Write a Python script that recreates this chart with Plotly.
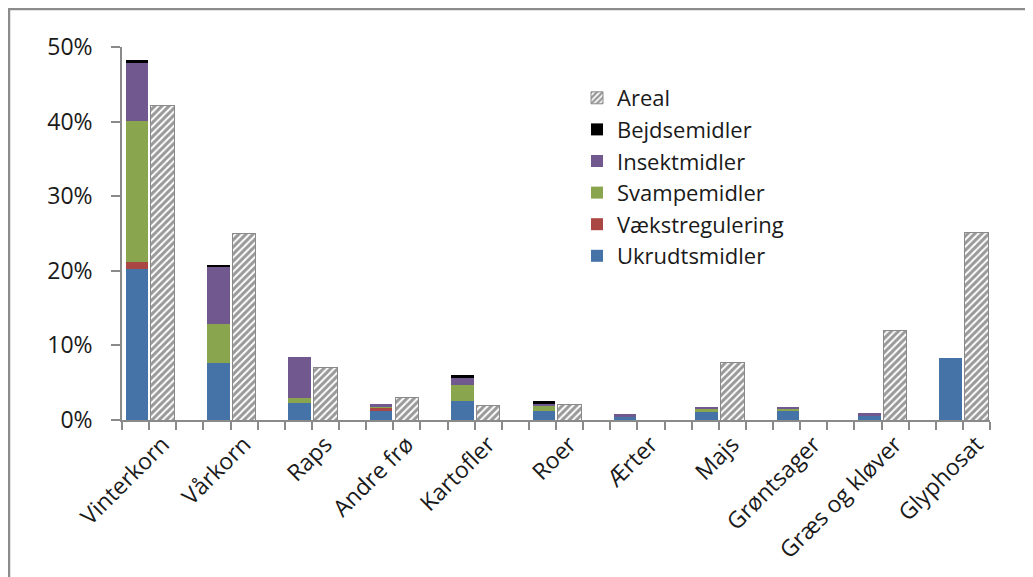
import plotly.graph_objects as go

categories = ["Vinterkorn", "Vårkorn", "Raps", "Andre frø", "Kartofler", "Roer",
              "Ærter", "Majs", "Grøntsager", "Græs og kløver", "Glyphosat"]

ukrudtsmidler   = [20.2, 7.7, 2.3, 1.25, 2.6, 1.25, 0.45, 1.05, 1.25, 0.65, 8.25]
vaekstregulering = [1.0, 0.0, 0.0, 0.3, 0.0, 0.0, 0.0, 0.0, 0.05, 0.0, 0.0]
svampemidler    = [18.9, 5.2, 0.6, 0.3, 2.1, 0.65, 0.0, 0.45, 0.25, 0.0, 0.0]
insektmidler    = [7.7, 7.7, 5.6, 0.25, 0.9, 0.2, 0.35, 0.25, 0.2, 0.25, 0.0]
bejdsemidler    = [0.5, 0.15, 0.0, 0.0, 0.4, 0.4, 0.0, 0.0, 0.0, 0.0, 0.0]
areal           = [42.1, 25.0, 7.05, 2.95, 1.9, 2.05, 0.0, 7.7, 0.0, 12.05, 25.2]

series = [
    ("Ukrudtsmidler", ukrudtsmidler, "#4572A7"),
    ("Vækstregulering", vaekstregulering, "#AA4643"),
    ("Svampemidler", svampemidler, "#89A54E"),
    ("Insektmidler", insektmidler, "#71588F"),
    ("Bejdsemidler", bejdsemidler, "#000000"),
]

n = len(categories)
# each category occupies three slots: stacked bar, area bar, gap
x_stack = [3 * i + 0.55 for i in range(n)]
x_area = [3 * i + 1.5 for i in range(n)]
nslots = 3 * n - 1

FONT = "Open Sans"
FS = 23
TXT = "#1a1a1a"
AX = "#8a8a8a"

fig = go.Figure()
for name, vals, col in series:
    fig.add_trace(go.Bar(
        x=x_stack, y=vals, name=name, width=0.83,
        marker=dict(color=col, line=dict(width=0)),
    ))

fig.add_trace(go.Bar(
    x=x_area, y=areal, name="Areal", width=0.87,
    marker=dict(color="white",
                line=dict(color="#8a8a8a", width=1),
                pattern=dict(shape="/", fgcolor="#333333", bgcolor="white",
                             size=5, solidity=0.6)),
))

# page offset (browser body margin)
OFF = 8
W, H = 1033 - OFF, 577 - OFF
# plot area in page pixels: x 122..990, y 47..420
ml = 122 - OFF
mt = 47 - OFF
mr = W - (990 - OFF)
mb = H - (420 - OFF)
pw, ph = W - ml - mr, H - mt - mb

def px_x(p):
    return (p - OFF - ml) / pw

def px_y(p):
    return (H - mb - (p - OFF)) / ph

fig.update_layout(
    width=W, height=H,
    margin=dict(l=ml, r=mr, t=mt, b=mb, pad=0),
    barmode="stack",
    plot_bgcolor="white", paper_bgcolor="white",
    font=dict(family=FONT, size=FS, color=TXT),
    legend=dict(
        x=px_x(577), y=px_y(77), xanchor="left", yanchor="top",
        traceorder="reversed", bgcolor="rgba(0,0,0,0)",
        font=dict(family=FONT, size=22, color=TXT),
        itemwidth=30, tracegroupgap=0,
    ),
    xaxis=dict(
        range=[0, nslots], showgrid=False, zeroline=False,
        showline=True, linecolor=AX, linewidth=1.5,
        tickmode="array", tickvals=x_area, ticktext=categories,
        ticks="", tickangle=-45,
        tickfont=dict(family=FONT, size=FS, color=TXT),
        minor=dict(ticks="outside", tick0=0, dtick=1, ticklen=8,
                   tickcolor=AX, tickwidth=1.5, showgrid=False),
    ),
    yaxis=dict(
        range=[0, 50], dtick=10, ticksuffix="%", showgrid=False,
        zeroline=False, showline=True, linecolor=AX, linewidth=1.5,
        ticks="outside", ticklen=9, tickcolor=AX, tickwidth=1.5,
        tickfont=dict(family=FONT, size=FS, color=TXT),
        ticklabelstandoff=14,
    ),
    shapes=[
        dict(type="line", xref="paper", yref="paper",
             x0=px_x(OFF), x1=px_x(1033), y0=px_y(OFF + 1), y1=px_y(OFF + 1),
             line=dict(color="#8c8c8c", width=2.5)),
        dict(type="line", xref="paper", yref="paper",
             x0=px_x(OFF + 1), x1=px_x(OFF + 1), y0=px_y(OFF), y1=px_y(577),
             line=dict(color="#8c8c8c", width=2.5)),
    ],
)

fig.write_html("out.html")
